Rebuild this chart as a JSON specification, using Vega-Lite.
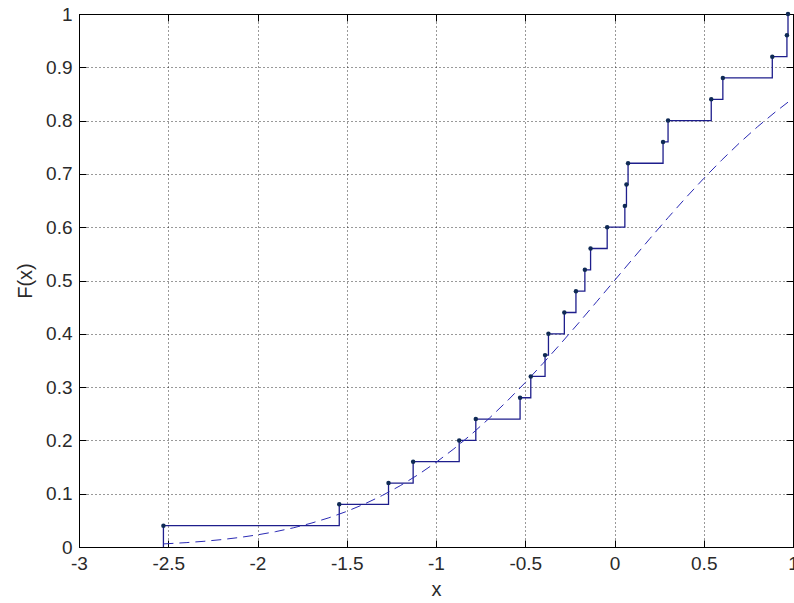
{
  "$schema": "https://vega.github.io/schema/vega-lite/v6.json",
  "autosize": {"type": "none"},
  "width": 714,
  "height": 533,
  "padding": {"left": 79, "top": 14, "right": 1, "bottom": 56},
  "background": "white",
  "config": {
    "view": {"stroke": "#000", "strokeWidth": 1},
    "font": "Liberation Sans",
    "axis": {
      "labelFont": "Liberation Sans",
      "labelFontSize": 19,
      "labelColor": "#2a2a2a",
      "titleFont": "Liberation Sans",
      "titleFontSize": 20,
      "titleFontWeight": "normal",
      "titleColor": "#2a2a2a",
      "domainColor": "#000",
      "tickColor": "#000",
      "gridColor": "#000",
      "gridDash": [1, 3],
      "gridOpacity": 0.8,
      "gridWidth": 1
    }
  },
  "datasets": {
    "ecdf": [
      {"x": -2.527, "F": 0.0},
      {"x": -2.527, "F": 0.04},
      {"x": -1.542, "F": 0.08},
      {"x": -1.266, "F": 0.12},
      {"x": -1.128, "F": 0.16},
      {"x": -0.87, "F": 0.2},
      {"x": -0.777, "F": 0.24},
      {"x": -0.529, "F": 0.28},
      {"x": -0.469, "F": 0.32},
      {"x": -0.389, "F": 0.36},
      {"x": -0.37, "F": 0.4},
      {"x": -0.281, "F": 0.44},
      {"x": -0.216, "F": 0.48},
      {"x": -0.166, "F": 0.52},
      {"x": -0.134, "F": 0.56},
      {"x": -0.041, "F": 0.6},
      {"x": 0.058, "F": 0.64},
      {"x": 0.067, "F": 0.68},
      {"x": 0.076, "F": 0.72},
      {"x": 0.272, "F": 0.76},
      {"x": 0.3, "F": 0.8},
      {"x": 0.542, "F": 0.84},
      {"x": 0.607, "F": 0.88},
      {"x": 0.884, "F": 0.92},
      {"x": 0.966, "F": 0.96},
      {"x": 0.972, "F": 1.0}
    ],
    "normal": [
      {"x": -2.527, "F": 0.0058},
      {"x": -2.4, "F": 0.0082},
      {"x": -2.3, "F": 0.0107},
      {"x": -2.2, "F": 0.0139},
      {"x": -2.1, "F": 0.0179},
      {"x": -2.0, "F": 0.0228},
      {"x": -1.9, "F": 0.0287},
      {"x": -1.8, "F": 0.0359},
      {"x": -1.7, "F": 0.0446},
      {"x": -1.6, "F": 0.0548},
      {"x": -1.5, "F": 0.0668},
      {"x": -1.4, "F": 0.0808},
      {"x": -1.3, "F": 0.0968},
      {"x": -1.2, "F": 0.1151},
      {"x": -1.1, "F": 0.1357},
      {"x": -1.0, "F": 0.1587},
      {"x": -0.9, "F": 0.1841},
      {"x": -0.8, "F": 0.2119},
      {"x": -0.7, "F": 0.242},
      {"x": -0.6, "F": 0.2743},
      {"x": -0.5, "F": 0.3085},
      {"x": -0.4, "F": 0.3446},
      {"x": -0.3, "F": 0.3821},
      {"x": -0.2, "F": 0.4207},
      {"x": -0.1, "F": 0.4602},
      {"x": 0.0, "F": 0.5},
      {"x": 0.1, "F": 0.5398},
      {"x": 0.2, "F": 0.5793},
      {"x": 0.3, "F": 0.6179},
      {"x": 0.4, "F": 0.6554},
      {"x": 0.5, "F": 0.6915},
      {"x": 0.6, "F": 0.7257},
      {"x": 0.7, "F": 0.758},
      {"x": 0.8, "F": 0.7881},
      {"x": 0.9, "F": 0.8159},
      {"x": 0.972, "F": 0.8346}
    ]
  },
  "resolve": {"axis": {"x": "independent", "y": "independent"}},
  "layer": [
    {
      "data": {"name": "ecdf"},
      "mark": {"type": "line", "interpolate": "step-after", "color": "#1e1e8c", "strokeWidth": 1.3, "clip": true},
      "encoding": {
        "x": {
          "field": "x", "type": "quantitative",
          "scale": {"domain": [-3, 1], "nice": false, "zero": false},
          "axis": {
            "title": "x", "titleY": 32, "titleBaseline": "top",
            "values": [-3, -2.5, -2, -1.5, -1, -0.5, 0, 0.5, 1],
            "labelExpr": "datum.value < 0 ? '-' + format(-datum.value, '~g') : format(datum.value, '~g')",
            "tickSize": -7, "labelPadding": 14, "labelFlush": false, "labelOverlap": false,
            "grid": true
          }
        },
        "y": {
          "field": "F", "type": "quantitative",
          "scale": {"domain": [0, 1], "nice": false, "zero": false},
          "axis": {
            "title": "F(x)", "titleX": -54, "titleBaseline": "middle",
            "values": [0, 0.1, 0.2, 0.3, 0.4, 0.5, 0.6, 0.7, 0.8, 0.9, 1],
            "labelExpr": "format(datum.value, '~g')",
            "tickSize": -7, "labelPadding": 14, "labelFlush": false, "labelOverlap": false,
            "grid": true
          }
        },
        "order": {"field": "F", "type": "quantitative"}
      }
    },
    {
      "data": {"name": "normal"},
      "mark": {"type": "line", "color": "#2a2ab4", "strokeWidth": 1, "strokeDash": [10, 6]},
      "encoding": {
        "x": {"field": "x", "type": "quantitative",
          "axis": {"orient": "top", "title": null, "labels": false, "grid": false, "tickSize": -7,
            "values": [-3, -2.5, -2, -1.5, -1, -0.5, 0, 0.5, 1]}},
        "y": {"field": "F", "type": "quantitative",
          "axis": {"orient": "right", "title": null, "labels": false, "grid": false, "tickSize": -7,
            "values": [0, 0.1, 0.2, 0.3, 0.4, 0.5, 0.6, 0.7, 0.8, 0.9, 1]}}
      }
    },
    {
      "data": {"name": "ecdf"},
      "transform": [{"filter": "datum.F > 0"}],
      "mark": {"type": "point", "filled": true, "size": 20, "color": "#0f2a55", "opacity": 1},
      "encoding": {
        "x": {"field": "x", "type": "quantitative", "axis": null},
        "y": {"field": "F", "type": "quantitative", "axis": null}
      }
    }
  ]
}
